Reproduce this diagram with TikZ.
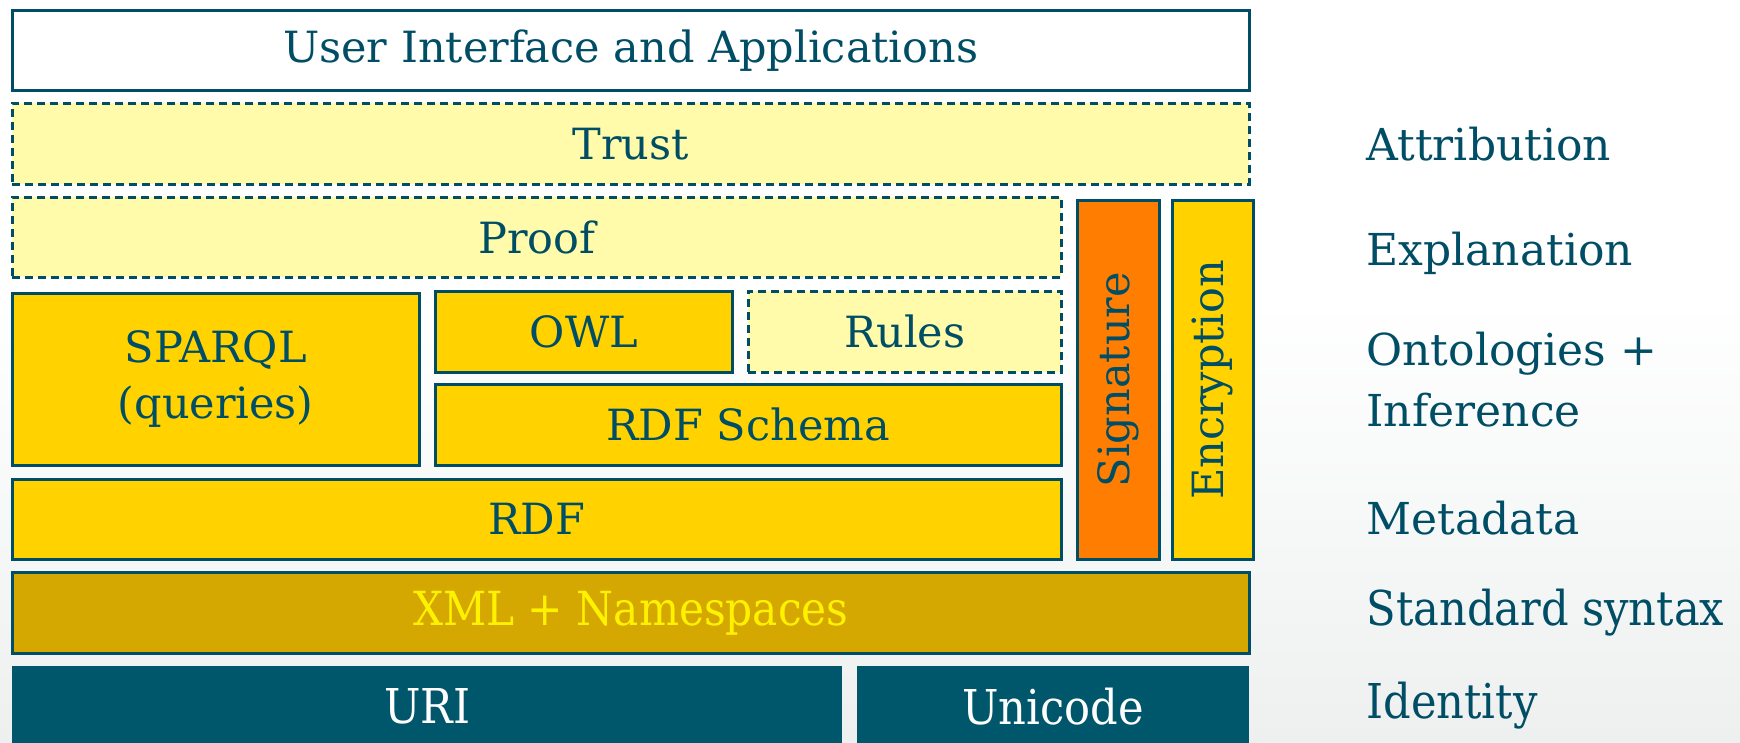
\documentclass[tikz,border=0pt]{standalone}
\usepackage{fontspec}
\setmainfont{DejaVu Serif}
\newfontfamily\narrowserif{DejaVu Serif Condensed}
\definecolor{ink}{RGB}{0,77,102}
\definecolor{paleyellow}{RGB}{255,251,170}
\definecolor{gold}{RGB}{255,210,0}
\definecolor{darkgold}{RGB}{212,168,0}
\definecolor{signorange}{RGB}{255,125,0}
\definecolor{petrol}{RGB}{0,87,107}
\definecolor{bggrey}{RGB}{238,240,240}
\begin{document}
\begin{tikzpicture}[
  x=1pt, y=-1pt,
  layer/.style={draw=ink, line width=2.5pt, text=ink, inner sep=0pt, anchor=north west,
    font=\fontsize{43}{56}\selectfont, align=center},
  future/.style={layer, fill=paleyellow, dash pattern=on 8pt off 5pt},
  solid gold/.style={layer, fill=gold},
  base/.style={layer, draw=none, fill=petrol, text=white, font=\narrowserif\fontsize{48}{56}\selectfont},
  upright/.style={rotate=90, text=ink, font=\fontsize{43}{56}\selectfont},
  side/.style={text=ink, anchor=west, align=left, font=\fontsize{44}{61}\selectfont}
]
  % background
  \useasboundingbox (0,0) rectangle (1740,742);
  \fill[white] (0,0) rectangle (1740,300);
  \shade[top color=white, bottom color=bggrey] (0,300) rectangle (1740,742);

  % the stack
  \node[layer, fill=white, minimum width=1237pt, minimum height=80pt] (ui) at (11,9) {User Interface and Applications};
  \node[future, minimum width=1237pt, minimum height=81pt] (trust) at (11,102) {Trust};
  \node[future, minimum width=1049pt, minimum height=80pt] (proof) at (11,196) {Proof};
  \node[solid gold, minimum width=407pt, minimum height=172pt] (sparql) at (11,292) {SPARQL\\(queries)};
  \node[solid gold, minimum width=297pt, minimum height=81pt] (owl) at (434,290) {OWL};
  \node[future, minimum width=313pt, minimum height=81pt] (rules) at (747,290) {Rules};
  \node[solid gold, minimum width=626pt, minimum height=81pt] (rdfs) at (434,383) {RDF Schema};
  \node[solid gold, minimum width=1049pt, minimum height=80pt] (rdf) at (11,478) {RDF};
  \node[layer, fill=signorange, minimum width=82pt, minimum height=359pt] (sig) at (1076,199) {};
  \node[upright] (sigtext) at (sig.center) {Signature};
  \node[solid gold, minimum width=81pt, minimum height=359pt] (enc) at (1171,199) {};
  \node[upright] (enctext) at (enc.center) {Encryption};
  \node[layer, fill=darkgold, text=yellow, font=\narrowserif\fontsize{47}{56}\selectfont,
    minimum width=1237pt, minimum height=81pt] (xml) at (11,571) {XML + Namespaces};
  \node[base, minimum width=830pt, minimum height=80pt] (uri) at (11,665) {URI};
  \node[base, minimum width=392pt, minimum height=80pt] (unicode) at (856,665) {Unicode};

  % what each layer gives
  \node[side] (attribution) at (1363,144) {Attribution};
  \node[side] (explanation) at (1363,253) {Explanation};
  \node[side] (ontologies) at (1363,380) {Ontologies +\\Inference};
  \node[side] (metadata) at (1363,518) {Metadata};
  \node[side, font=\narrowserif\fontsize{48}{56}\selectfont] (syntax) at (1363,613) {Standard syntax};
  \node[side, font=\narrowserif\fontsize{48}{56}\selectfont] (identity) at (1363,706) {Identity};
\end{tikzpicture}
\end{document}
